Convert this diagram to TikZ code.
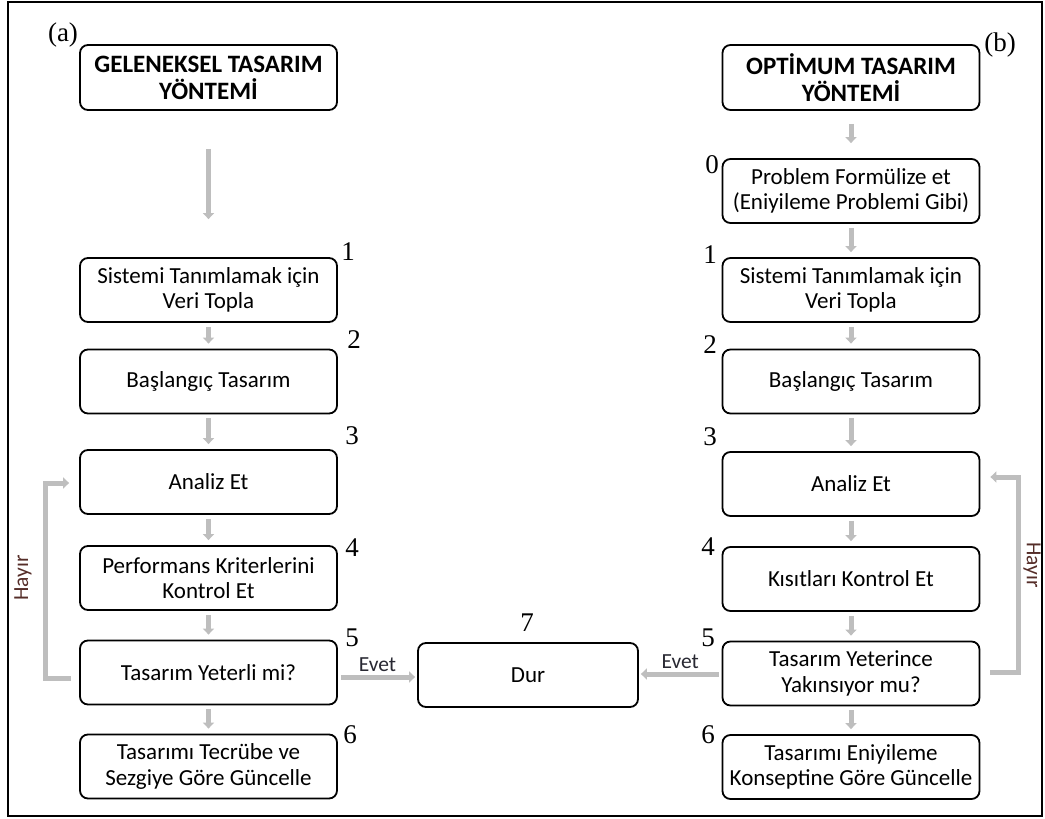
\documentclass[tikz,border=0pt]{standalone}
\usepackage{fontspec}
\setmainfont{Carlito}
\newfontfamily\numfont{Liberation Serif}
\usetikzlibrary{arrows.meta,positioning}
\definecolor{arrowgray}{RGB}{190,190,190}
\definecolor{hayircol}{RGB}{85,45,40}
\definecolor{evetcol}{RGB}{40,40,50}
\tikzset{
    box/.style={draw, line width=1.8pt, rounded corners=8pt, minimum width=257pt, minimum height=64pt, align=center, font=\fontsize{23}{25.5}\selectfont, inner sep=1pt},
    titlebox/.style={box, minimum height=65pt, font=\fontsize{25}{27}\selectfont\bfseries},
    flow/.style={draw=arrowgray, line width=5pt, -{Triangle[length=6pt,width=11pt]}, shorten <=4pt, shorten >=5pt},
    num/.style={font=\numfont\fontsize{27}{27}\selectfont, inner sep=0pt},
    lbl/.style={font=\fontsize{21.5}{21.5}\selectfont, inner sep=1pt}
}

\begin{document}
\begin{tikzpicture}[x=1pt,y=-1pt]
            \useasboundingbox (0,0) rectangle (1045,819);
            \draw[line width=2.5pt] (8,2) rectangle (1042,816);

            % (a) geleneksel
            \node[titlebox] (ta) at (208.5,77.5) {GELENEKSEL TASARIM\\YÖNTEMİ};
            \node[box] (l1) at (208.5,290) {Sistemi Tanımlamak için\\Veri Topla};
            \node[box] (l2) at (208.5,381.5) {Başlangıç Tasarım};
            \node[box] (l3) at (208.5,482) {Analiz Et};
            \node[box] (l4) at (208.5,578) {Performans Kriterlerini\\Kontrol Et};
            \node[box] (l5) at (208.5,672.5) {Tasarım Yeterli mi?};
            \node[box] (l6) at (208.5,766.5) {Tasarımı Tecrübe ve\\Sezgiye Göre Güncelle};

            % (b) optimum
            \node[titlebox] (tb) at (851,77.5) {OPTİMUM TASARIM\\YÖNTEMİ};
            \node[box] (r0) at (851,191) {Problem Formülize et\\(Eniyileme Problemi Gibi)};
            \node[box] (r1) at (851,290) {Sistemi Tanımlamak için\\Veri Topla};
            \node[box] (r2) at (851,381.5) {Başlangıç Tasarım};
            \node[box] (r3) at (851,484) {Analiz Et};
            \node[box] (r4) at (851,579) {Kısıtları Kontrol Et};
            \node[box] (r5) at (851,673.5) {Tasarım Yeterince\\Yakınsıyor mu?};
            \node[box] (r6) at (851,767) {Tasarımı Eniyileme\\Konseptine Göre Güncelle};

            \node[box, minimum width=220pt] (dur) at (528,675) {Dur};

            % numaralar
            \node[num] (na) at (63,35) {(a)};
            \node[num] (nb) at (1000,45) {(b)};
            \node[num] (nl1) at (348,252) {1};
            \node[num] (nl2) at (354,340) {2};
            \node[num] (nl3) at (352,436) {3};
            \node[num] (nl4) at (352,548) {4};
            \node[num] (nl5) at (352,638) {5};
            \node[num] (nl6) at (350,735) {6};
            \node[num] (nr0) at (712,165) {0};
            \node[num] (nr1) at (710,255) {1};
            \node[num] (nr2) at (710,345) {2};
            \node[num] (nr3) at (710,437) {3};
            \node[num] (nr4) at (708,547) {4};
            \node[num] (nr5) at (708,638) {5};
            \node[num] (nr6) at (708,735) {6};
            \node[num] (n7) at (527,623) {7};

            % oklar
            \draw[flow, shorten <=38pt, shorten >=38pt] (ta) -- (l1);
            \draw[flow] (l1) -- (l2);
            \draw[flow] (l2) -- (l3);
            \draw[flow] (l3) -- (l4);
            \draw[flow] (l4) -- (l5);
            \draw[flow] (l5) -- (l6);
            \draw[flow, shorten <=13pt, shorten >=15pt] (tb) -- (r0);
            \draw[flow] (r0) -- (r1);
            \draw[flow] (r1) -- (r2);
            \draw[flow] (r2) -- (r3);
            \draw[flow] (r3) -- (r4);
            \draw[flow] (r4) -- (r5);
            \draw[flow] (r5) -- (r6);

            \draw[flow, shorten <=3pt, shorten >=2pt] (l5.east |- 0,677) -- (dur.west |- 0,677) node[lbl, midway, above=2pt, text=evetcol] {Evet};
            \draw[flow, shorten <=3pt, shorten >=2pt] (r5.west |- 0,674) -- (dur.east |- 0,674) node[lbl, midway, above=2pt, text=evetcol] {Evet};

            \draw[flow, shorten <=8pt, shorten >=10pt] (l5.west |- 0,678) -| (45,580) |- (l3.west |- 0,483);
            \draw[flow, shorten <=10pt, shorten >=10pt] (r5.east |- 0,672) -| (1018,580) |- (r3.east |- 0,477);
            \node[lbl, rotate=90, text=hayircol] (hl) at (23,578) {Hayır};
            \node[lbl, rotate=-90, text=hayircol] (hr) at (1032,565) {Hayır};
\end{tikzpicture}
\end{document}
